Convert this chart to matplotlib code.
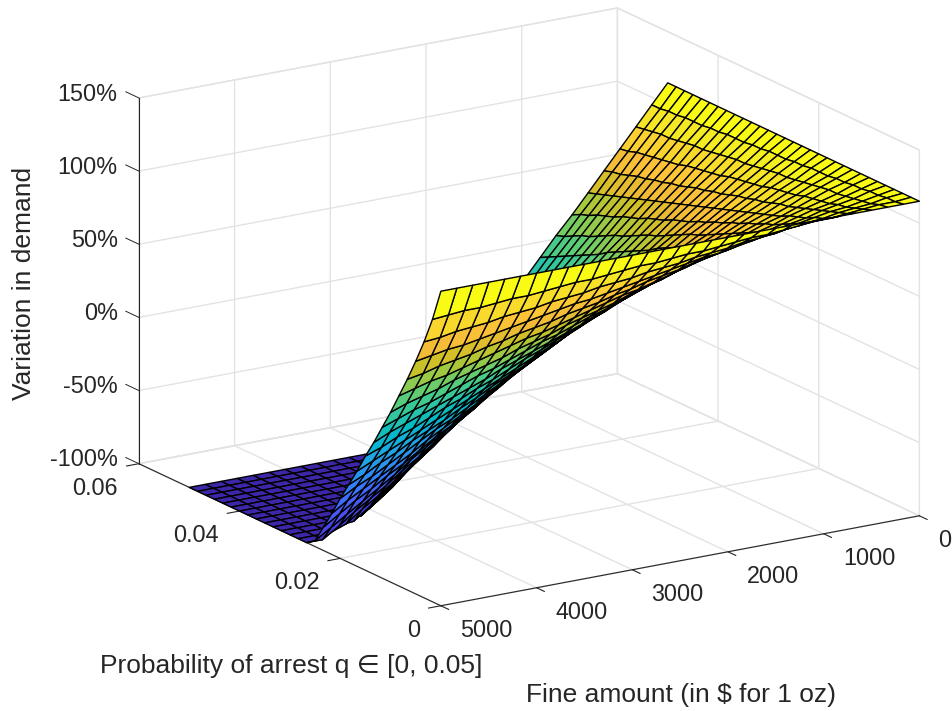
import matplotlib
matplotlib.use("Agg")
import matplotlib.pyplot as plt
import numpy as np
from matplotlib.colors import LinearSegmentedColormap, Normalize

plt.rcParams['font.family'] = ['Liberation Sans', 'DejaVu Sans']

# grid of the surface
fine_amount = [0, 167, 333, 500, 667, 833, 1000, 1167, 1333, 1500, 1667, 1833, 2000, 2167, 2333, 2500,
               2667, 2833, 3000, 3167, 3333, 3500, 3667, 3833, 4000, 4167, 4333, 4500, 4667, 4833, 5000]
arrest_prob = [0, .00167, .00333, .005, .00667, .00833, .01, .01167, .01333, .015, .01667, .01833, .02,
               .02167, .02333, .025, .02667, .02833, .03, .03167, .03333, .035, .03667, .03833, .04,
               .04167, .04333, .045, .04667, .04833, .05]

# variation in demand (%), one row per arrest probability
demand = [
    [115] * 31,
    [115, 114, 114, 113, 112, 111, 111, 110, 109, 108, 108, 107, 106, 105, 105, 104, 103, 103, 102, 101, 100, 100, 99, 98, 97, 97, 96, 95, 95, 94, 93],
    [115, 114, 112, 111, 110, 108, 107, 106, 104, 103, 102, 100, 99, 98, 96, 95, 94, 92, 91, 90, 88, 87, 86, 84, 83, 82, 80, 79, 78, 76, 75],
    [115, 113, 111, 109, 108, 106, 104, 102, 100, 98, 96, 94, 93, 91, 89, 87, 85, 83, 81, 79, 78, 76, 74, 72, 70, 68, 66, 64, 63, 61, 59],
    [115, 113, 110, 108, 106, 103, 101, 98, 96, 94, 91, 89, 87, 84, 82, 80, 77, 75, 72, 70, 68, 65, 63, 61, 58, 56, 53, 51, 49, 46, 44],
    [115, 112, 109, 106, 104, 101, 98, 95, 92, 89, 87, 84, 81, 78, 75, 72, 70, 67, 64, 61, 58, 55, 53, 50, 47, 44, 41, 38, 36, 33, 30],
    [115, 112, 108, 105, 102, 99, 95, 92, 89, 85, 82, 79, 76, 72, 69, 66, 62, 59, 56, 53, 49, 46, 43, 39, 36, 33, 30, 26, 23, 20, 16],
    [115, 111, 108, 104, 100, 96, 93, 89, 85, 81, 78, 74, 70, 67, 63, 59, 55, 52, 48, 44, 41, 37, 33, 29, 26, 22, 18, 14, 11, 7, 3],
    [115, 111, 107, 103, 98, 94, 90, 86, 82, 78, 73, 69, 65, 61, 57, 53, 49, 44, 40, 36, 32, 28, 24, 19, 15, 11, 7, 3, -1, -5, -10],
    [115, 110, 106, 101, 97, 92, 88, 83, 78, 74, 69, 65, 60, 56, 51, 46, 42, 37, 33, 28, 24, 19, 14, 10, 5, 1, -4, -9, -13, -18, -22],
    [115, 110, 105, 100, 95, 90, 85, 80, 75, 70, 65, 60, 55, 50, 45, 40, 35, 30, 25, 20, 15, 10, 5, 0, -5, -10, -15, -20, -25, -30, -35],
    [115, 110, 104, 99, 93, 88, 83, 77, 72, 66, 61, 56, 50, 45, 39, 34, 29, 23, 18, 12, 7, 2, -4, -9, -15, -20, -25, -31, -36, -42, -47],
    [115, 109, 103, 98, 92, 86, 80, 74, 69, 63, 57, 51, 45, 39, 34, 28, 22, 16, 10, 5, -1, -7, -13, -19, -24, -30, -36, -42, -48, -53, -59],
    [115, 109, 103, 96, 90, 84, 78, 71, 65, 59, 53, 47, 40, 34, 28, 22, 15, 9, 3, -3, -9, -16, -22, -28, -34, -41, -47, -53, -59, -65, -72],
    [115, 108, 102, 95, 89, 82, 75, 69, 62, 55, 49, 42, 36, 29, 22, 16, 9, 3, -4, -11, -17, -24, -31, -37, -44, -51, -57, -64, -70, -77, -84],
    [115, 108, 101, 94, 87, 80, 73, 66, 59, 52, 45, 38, 31, 24, 17, 10, 3, -4, -11, -18, -25, -32, -39, -46, -53, -61, -68, -75, -82, -89, -96],
    [115, 108, 100, 93, 85, 78, 70, 63, 56, 48, 41, 33, 26, 19, 11, 4, -4, -11, -19, -26, -33, -41, -48, -56, -63, -71, -78, -85, -93, -100, -100],
    [115, 107, 99, 92, 84, 76, 68, 60, 52, 45, 37, 29, 21, 13, 6, -2, -10, -18, -26, -34, -41, -49, -57, -65, -73, -81, -88, -96, -100, -100, -100],
    [115, 107, 99, 90, 82, 74, 66, 57, 49, 41, 33, 25, 16, 8, 0, -8, -17, -25, -33, -41, -49, -58, -66, -74, -82, -91, -99, -100, -100, -100, -100],
    [115, 106, 98, 89, 81, 72, 63, 55, 46, 37, 29, 20, 12, 3, -6, -14, -23, -31, -40, -49, -57, -66, -74, -83, -92, -100, -100, -100, -100, -100, -100],
    [115, 106, 97, 88, 79, 70, 61, 52, 43, 34, 25, 16, 7, -2, -11, -20, -29, -38, -47, -56, -65, -74, -83, -92, -100, -100, -100, -100, -100, -100, -100],
    [115, 106, 96, 87, 77, 68, 59, 49, 40, 30, 21, 12, 2, -7, -17, -26, -35, -45, -54, -64, -73, -82, -92, -100, -100, -100, -100, -100, -100, -100, -100],
    [115, 105, 95, 86, 76, 66, 56, 46, 37, 27, 17, 7, -2, -12, -22, -32, -42, -51, -61, -71, -81, -91, -100, -100, -100, -100, -100, -100, -100, -100, -100],
    [115, 105, 95, 84, 74, 64, 54, 44, 33, 23, 13, 3, -7, -17, -28, -38, -48, -58, -68, -79, -89, -99, -100, -100, -100, -100, -100, -100, -100, -100, -100],
    [115, 104, 94, 83, 73, 62, 52, 41, 30, 20, 9, -1, -12, -23, -33, -44, -54, -65, -75, -86, -97, -100, -100, -100, -100, -100, -100, -100, -100, -100, -100],
    [115, 104, 93, 82, 71, 60, 49, 38, 27, 16, 5, -6, -17, -28, -39, -50, -61, -71, -82, -93, -100, -100, -100, -100, -100, -100, -100, -100, -100, -100, -100],
    [115, 104, 92, 81, 70, 58, 47, 35, 24, 13, 1, -10, -21, -33, -44, -55, -67, -78, -89, -100, -100, -100, -100, -100, -100, -100, -100, -100, -100, -100, -100],
    [115, 103, 92, 80, 68, 56, 45, 33, 21, 9, -3, -14, -26, -38, -50, -61, -73, -85, -97, -100, -100, -100, -100, -100, -100, -100, -100, -100, -100, -100, -100],
    [115, 103, 91, 79, 66, 54, 42, 30, 18, 6, -6, -19, -31, -43, -55, -67, -79, -91, -100, -100, -100, -100, -100, -100, -100, -100, -100, -100, -100, -100, -100],
    [115, 102, 90, 77, 65, 52, 40, 27, 15, 2, -10, -23, -35, -48, -60, -73, -85, -98, -100, -100, -100, -100, -100, -100, -100, -100, -100, -100, -100, -100, -100],
    [115, 102, 89, 76, 63, 50, 37, 25, 12, -1, -14, -27, -40, -53, -66, -79, -92, -100, -100, -100, -100, -100, -100, -100, -100, -100, -100, -100, -100, -100, -100],
]

fine_ticks = [0, 1000, 2000, 3000, 4000, 5000]
fine_labels = ['0', '1000', '2000', '3000', '4000', '5000']
prob_ticks = [0, 0.02, 0.04, 0.06]
prob_labels = ['0', '0.02', '0.04', '0.06']
demand_ticks = [-100, -50, 0, 50, 100, 150]
demand_labels = ['-100%', '-50%', '0%', '50%', '100%', '150%']

# parula, every few entries of the 64 colour table
parula = LinearSegmentedColormap.from_list('parula', [
    (.2422, .1504, .6603), (.2647, .1978, .7952), (.2783, .2559, .8991), (.2810, .3228, .9579),
    (.2699, .3892, .9906), (.2206, .4603, .9973), (.1786, .5289, .9682), (.1540, .5902, .9218),
    (.1248, .6459, .8883), (.0689, .6948, .8394), (.0067, .7312, .7660), (.1408, .7584, .6842),
    (.2161, .7843, .5923), (.3406, .8008, .4789), (.5044, .7993, .3480), (.6720, .7793, .2227),
    (.8203, .7498, .1535), (.9393, .7288, .2100), (.9970, .7659, .2199), (.9786, .8386, .1766),
    (.9597, .9135, .1423), (.9769, .9839, .0805)])

text_color = '#262626'
grid_color = '#e3e3e3'
tick_size = 16.8
label_size = 19

X, Y = np.meshgrid(fine_amount, arrest_prob)
Z = np.array(demand, dtype=float)

fig = plt.figure(figsize=(9.53, 7.11), dpi=100)
# square axes placed so that the box lands on the same pixels as the reference
ax = fig.add_axes([87 / 953, -38 / 711, 861 / 953, 861 / 711], projection='3d')
ax.set_proj_type('ortho')
ax.view_init(elev=17.3, azim=-122.3)
ax.set_box_aspect((566, 565, 383))
ax.patch.set_visible(False)

norm = Normalize(vmin=-100, vmax=115)
ax.plot_surface(X, Y, Z, rstride=1, cstride=1, facecolors=parula(norm(Z)), edgecolor='k',
                linewidth=1.0, shade=False)

ax.set_xlim(5000, 0)
ax.set_ylim(0, 0.06)
ax.set_zlim(-100, 150)
ax.set_xticks(fine_ticks)
ax.set_yticks(prob_ticks)
ax.set_zticks(demand_ticks)
ax.set_xticklabels([])
ax.set_yticklabels([])
ax.set_zticklabels([])
ax.tick_params(color=text_color, width=0.7)

for axis in [ax.xaxis, ax.yaxis, ax.zaxis]:
    axis.set_pane_color((1, 1, 1, 1))
    axis.pane.set_edgecolor(grid_color)
    axis.line.set_color(text_color)
    axis.line.set_linewidth(0.8)
    axis._axinfo['grid'].update(color=grid_color, linewidth=1.0)

# "inward" is what points out of the box here, with the fine axis reversed
ax.xaxis._axinfo['tick'].update(inward_factor=0.32, outward_factor=0)
ax.yaxis._axinfo['tick'].update(inward_factor=0.32, outward_factor=0)
ax.zaxis._axinfo['tick'].update(inward_factor=0, outward_factor=0)

# z ticks run along the probability axis, mplot3d would put them along the fine axis
for value in demand_ticks:
    ax.plot([5000, 5000], [0.06, 0.0626], [value, value], color=text_color, linewidth=0.7)

# tick labels sit a fixed distance from the axes, off the floor of the box
for value, label in zip(fine_ticks, fine_labels):
    ax.text(value, -0.0038, -111, label, ha='left', va='center', fontsize=tick_size, color=text_color)
for value, label in zip(prob_ticks, prob_labels):
    ax.text(5219, value, -114, label, ha='right', va='center', fontsize=tick_size, color=text_color)
for value, label in zip(demand_ticks, demand_labels):
    ax.text(5000, 0.0642, value - 4.2, label, ha='right', va='center', fontsize=tick_size, color=text_color)

fig.text(681 / 953, 1 - 695 / 711, 'Fine amount (in $ for 1 oz)', ha='center', va='center',
         fontsize=label_size, color=text_color)
fig.text(291 / 953, 1 - 666 / 711, 'Probability of arrest q \u2208 [0, 0.05]', ha='center', va='center',
         fontsize=label_size, color=text_color)
fig.text(24 / 953, 1 - 283 / 711, 'Variation in demand', ha='center', va='center', rotation=90,
         fontsize=label_size, color=text_color)

fig.savefig('out.png', dpi=100)
